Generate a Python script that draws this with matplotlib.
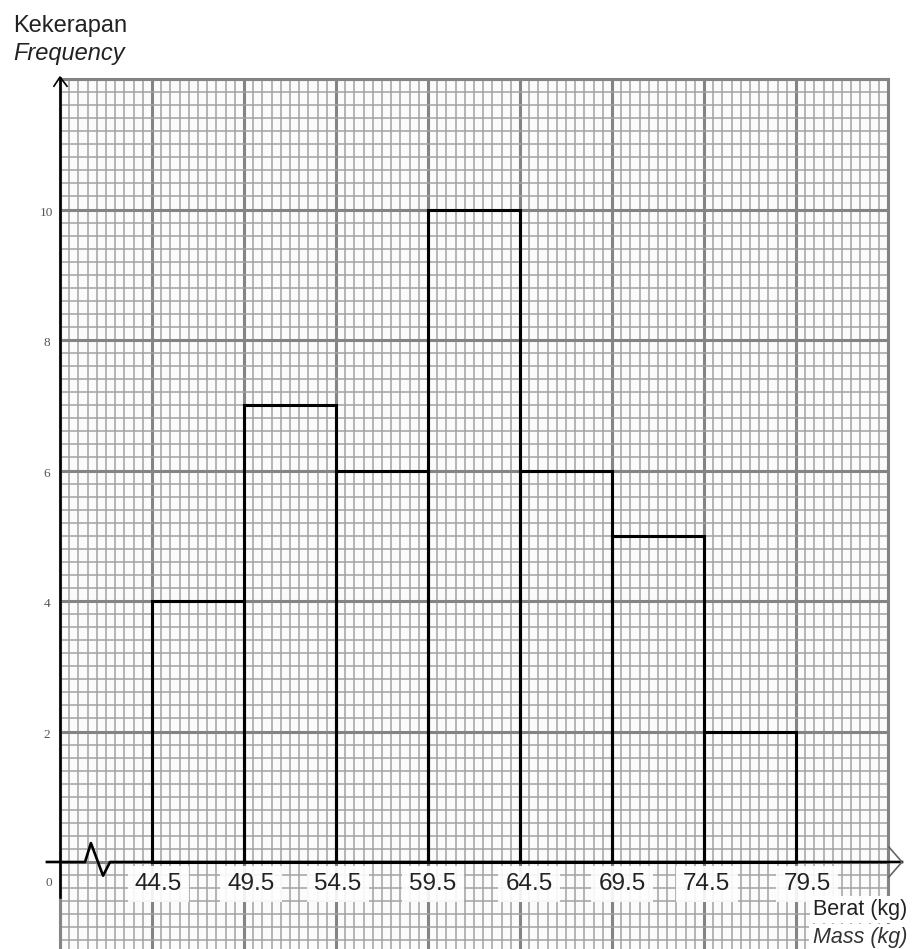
import numpy as np
import matplotlib
matplotlib.use("Agg")
import matplotlib.pyplot as plt

# class boundaries (kg) and frequencies
edges = [44.5, 49.5, 54.5, 59.5, 64.5, 69.5, 74.5, 79.5]
freq = [4, 7, 6, 10, 6, 5, 2]
edge_labels = ["44.5", "49.5", "54.5", "59.5", "64.5", "69.5", "74.5", "79.5"]
# small nudges of the printed labels to the right of each boundary
label_shift = [0.35, 0.4, 0.1, 0.25, 0.5, 0.55, 0.15, 0.6]
y_ticks = [2, 4, 6, 8, 10]

plt.rcParams["font.family"] = ["Liberation Sans", "DejaVu Sans"]

fig = plt.figure(figsize=(9.15, 9.49), dpi=100)
fig.patch.set_facecolor("white")

# graph paper area: 9 big squares across, 6 big squares up from the x axis
ax = fig.add_axes([60 / 915, 0, 828 / 915, 870 / 949])
ax.set_facecolor("#fbfbfb")
ax.set_xlim(39.5, 84.5)
ax.set_ylim(-87 / 65.25, 12)

ax.set_xticks(np.arange(39.5, 84.51, 5))
ax.set_xticks(np.arange(39.5, 84.51, 0.5), minor=True)
ax.set_yticks(np.arange(0, 12.01, 2))
ax.set_yticks(np.arange(-1.2, 12.01, 0.2), minor=True)
ax.grid(which="minor", color="#a2a2a2", linewidth=1.1, zorder=0)
ax.grid(which="major", color="#848484", linewidth=2.2, zorder=0)
ax.set_axisbelow(True)
ax.tick_params(which="both", length=0, labelbottom=False, labelleft=False)
for side in ["left", "right", "top"]:
    ax.spines[side].set_color("#848484")
    ax.spines[side].set_linewidth(2.2)
ax.spines["bottom"].set_visible(False)

# histogram
ax.bar(edges[:-1], freq, width=5, align="edge", fill=False,
       edgecolor="black", linewidth=2.2, zorder=3)

# axes with break mark and arrow heads
ax.plot([38.79, 40.86, 41.18, 41.84, 42.22, 85.26],
        [0, 0, 0.29, -0.21, 0, 0],
        color="black", linewidth=1.9, clip_on=False, zorder=4)
ax.plot([84.55, 85.26, 84.55], [0.23, 0, -0.23],
        color="#666666", linewidth=1.2, clip_on=False, zorder=4)
ax.plot([39.5, 39.5], [-0.54, 12.02], color="black", linewidth=1.8,
        clip_on=False, zorder=4)
ax.plot([39.17, 39.5, 39.88], [11.89, 12.03, 11.89],
        color="black", linewidth=1.2, clip_on=False, zorder=4)

# boundary labels with white patches
for e, lab, s in zip(edges, edge_labels, label_shift):
    ax.text(e + s, -0.34, lab, ha="center", va="center", fontsize=17.5,
            color="#222222", zorder=5,
            bbox=dict(boxstyle="square,pad=0.3", facecolor="white",
                      edgecolor="none", alpha=0.9))

# frequency scale
for v in y_ticks:
    ax.text(38.78, v - 0.05, str(v), ha="center", va="center", fontsize=9.5,
            family="Liberation Serif", color="#555555", clip_on=False)
ax.text(38.9, -0.32, "0", ha="center", va="center", fontsize=9.5,
        family="Liberation Serif", color="#555555", clip_on=False)

# axis titles
fig.text(13 / 915, 1 - 32 / 949, "Kekerapan", fontsize=17,
         va="baseline", ha="left", color="#222222")
fig.text(13 / 915, 1 - 60 / 949, "Frequency", fontsize=17, style="italic",
         va="baseline", ha="left", color="#222222")
fig.text(907 / 915, 1 - 915 / 949, "Berat (kg)", fontsize=15.5,
         va="baseline", ha="right", color="#222222",
         bbox=dict(boxstyle="square,pad=0.15", facecolor="white",
                   edgecolor="none"))
fig.text(907 / 915, 1 - 943 / 949, "Mass (kg)", fontsize=15.5, style="italic",
         va="baseline", ha="right", color="#333333",
         bbox=dict(boxstyle="square,pad=0.15", facecolor="white",
                   edgecolor="none"))

fig.savefig("out.png", dpi=100)
